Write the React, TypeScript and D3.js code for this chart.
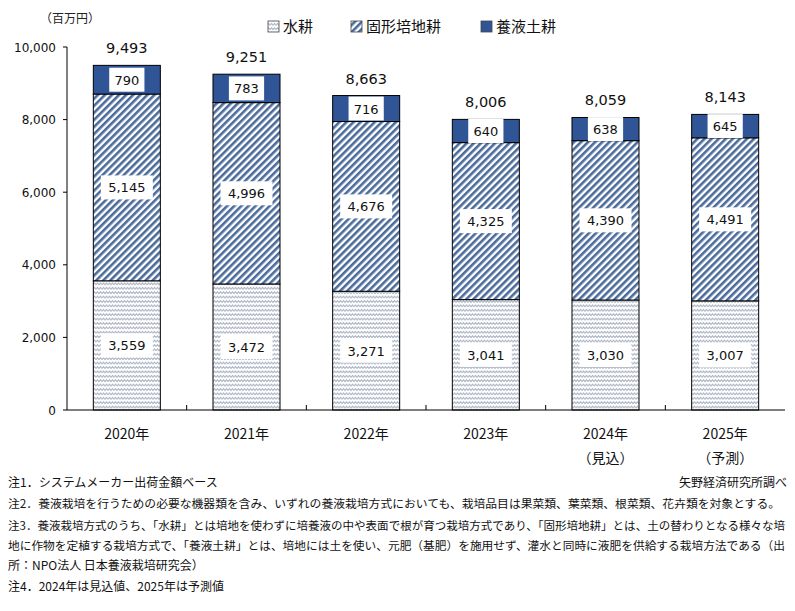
import React from "react";
import * as d3 from "d3";

const categories = ["2020年", "2021年", "2022年", "2023年", "2024年", "2025年"];
const subLabels = ["", "", "", "", "（見込）", "（予測）"];
const series = ["水耕", "固形培地耕", "養液土耕"];
const hydroponics = [3559, 3472, 3271, 3041, 3030, 3007];
const substrate = [5145, 4996, 4676, 4325, 4390, 4491];
const soilFert = [790, 783, 716, 640, 638, 645];
const totals = [9493, 9251, 8663, 8006, 8059, 8143];
const yTicks = [0, 2000, 4000, 6000, 8000, 10000];
const notes = [
  "注1．システムメーカー出荷金額ベース",
  "注2．養液栽培を行うための必要な機器類を含み、いずれの養液栽培方式においても、栽培品目は果菜類、葉菜類、根菜類、花卉類を対象とする。",
  "注3．養液栽培方式のうち、「水耕」とは培地を使わずに培養液の中や表面で根が育つ栽培方式であり、「固形培地耕」とは、土の替わりとなる様々な培",
  "地に作物を定植する栽培方式で、「養液土耕」とは、培地には土を使い、元肥（基肥）を施用せず、灌水と同時に液肥を供給する栽培方法である（出",
  "所：NPO法人 日本養液栽培研究会）",
  "注4．2024年は見込値、2025年は予測値",
];
const source = "矢野経済研究所調べ";

const W = 795;
const H = 611;
const m = { left: 67, right: 785, top: 47, bottom: 410 };
const JP = "'Noto Sans CJK JP', 'Noto Sans', sans-serif";
const NUM = "'DejaVu Sans', Verdana, sans-serif";
const fills = ["url(#wave)", "url(#diag)", "#2f5597"];

export default function App() {
  const x = d3.scaleBand<string>().domain(categories).range([m.left, m.right]).paddingInner(0.44).paddingOuter(0.22);
  const y = d3.scaleLinear().domain([0, 10000]).range([m.bottom, m.top]);
  const stackData = categories.map((c, i) => ({ c, s0: hydroponics[i], s1: substrate[i], s2: soilFert[i] }));
  const stack = d3.stack<any>().keys(["s0", "s1", "s2"])(stackData);
  const fmt = d3.format(",");
  const step = x.step();

  const noteY = [487, 508, 530, 550, 570, 591];
  const noteLen = [0, 772, 777, 777, 0, 0];

  return (
    <svg width={W} height={H} style={{ position: "absolute", left: 0, top: 0, background: "#fff" }}>
      <defs>
        <pattern id="wave" patternUnits="userSpaceOnUse" width="6" height="4.4">
          <rect width="6" height="4.4" fill="#fff" />
          <path d="M0 3.2 L1.5 1.4 L3 3.2 L4.5 1.4 L6 3.2" fill="none" stroke="#a3adbd" strokeWidth="1" />
        </pattern>
        <pattern id="diag" patternUnits="userSpaceOnUse" width="5" height="5" patternTransform="rotate(45)">
          <rect width="5" height="5" fill="#fff" />
          <rect width="2.6" height="5" fill="#4a6b9b" />
        </pattern>
      </defs>
      <rect width={W} height={H} fill="#fff" />

      {/* unit */}
      <text x={40} y={23} fontFamily={JP} fontSize={12} fill="#222">（百万円）</text>

      {/* legend */}
      {series.map((s, i) => {
        const lx = [268, 351, 481][i];
        return (
          <g key={s}>
            <rect x={lx} y={21} width={11} height={11} fill={fills[i]} stroke="#444" strokeWidth={0.8} />
            <text x={lx + 15} y={32} fontFamily={JP} fontSize={15} fill="#111">{s}</text>
          </g>
        );
      })}

      {/* y axis */}
      <line x1={m.left} x2={m.left} y1={y(10000)} y2={m.bottom} stroke="#000" strokeWidth={1} />
      {yTicks.map((t) => (
        <g key={t}>
          <line x1={m.left - 4} x2={m.left} y1={y(t)} y2={y(t)} stroke="#000" />
          <text x={56} y={y(t) + 4.5} textAnchor="end" fontFamily={NUM} fontSize={12} fill="#111">{fmt(t)}</text>
        </g>
      ))}

      {/* bars */}
      {stack.map((layer, li) =>
        layer.map((d, i) => {
          const x0 = x(categories[i])!;
          return (
            <rect key={`${li}-${i}`} x={x0} y={y(d[1])} width={x.bandwidth()} height={y(d[0]) - y(d[1])}
              fill={fills[li]} stroke="#000" strokeWidth={1} />
          );
        })
      )}

      {/* segment labels */}
      {stack.map((layer, li) =>
        layer.map((d, i) => {
          const cx = x(categories[i])! + x.bandwidth() / 2;
          const cy = (y(d[0]) + y(d[1])) / 2;
          const label = fmt(d[1] - d[0]);
          const bw = label.length * 8.4 + 10;
          return (
            <g key={`l${li}-${i}`}>
              <rect x={cx - bw / 2} y={cy - 12} width={bw} height={24} fill="#fff" />
              <text x={cx} y={cy + 5} textAnchor="middle" fontFamily={NUM} fontSize={13} fill="#111">{label}</text>
            </g>
          );
        })
      )}

      {/* totals */}
      {totals.map((t, i) => (
        <text key={`t${i}`} x={x(categories[i])! + x.bandwidth() / 2} y={y(t) - 12} textAnchor="middle"
          fontFamily={NUM} fontSize={14.5} fill="#111">{fmt(t)}</text>
      ))}

      {/* x axis */}
      <line x1={m.left} x2={m.right} y1={m.bottom} y2={m.bottom} stroke="#000" strokeWidth={1.2} />
      {categories.slice(1).map((c, i) => {
        const tx = x(c)! - (step - x.bandwidth()) / 2;
        return <line key={`xt${i}`} x1={tx} x2={tx} y1={m.bottom - 5} y2={m.bottom} stroke="#000" />;
      })}
      {categories.map((c, i) => {
        const cx = x(c)! + x.bandwidth() / 2;
        return (
          <g key={`c${i}`}>
            <text x={cx} y={439} textAnchor="middle" fontFamily={JP} fontSize={14} fill="#111">{c}</text>
            {subLabels[i] && (
              <text x={cx} y={463} textAnchor="middle" fontFamily={JP} fontSize={14} fill="#111">{subLabels[i]}</text>
            )}
          </g>
        );
      })}

      {/* notes */}
      {notes.map((n, i) => (
        <text key={`n${i}`} x={8} y={noteY[i]} fontFamily={JP} fontSize={noteLen[i] ? 11.6 : 12} fill="#111"
          {...(noteLen[i] ? { textLength: noteLen[i], lengthAdjust: "spacingAndGlyphs" } : {})}>{n}</text>
      ))}
      <text x={787} y={noteY[0]} textAnchor="end" fontFamily={JP} fontSize={12} fill="#111">{source}</text>
    </svg>
  );
}
